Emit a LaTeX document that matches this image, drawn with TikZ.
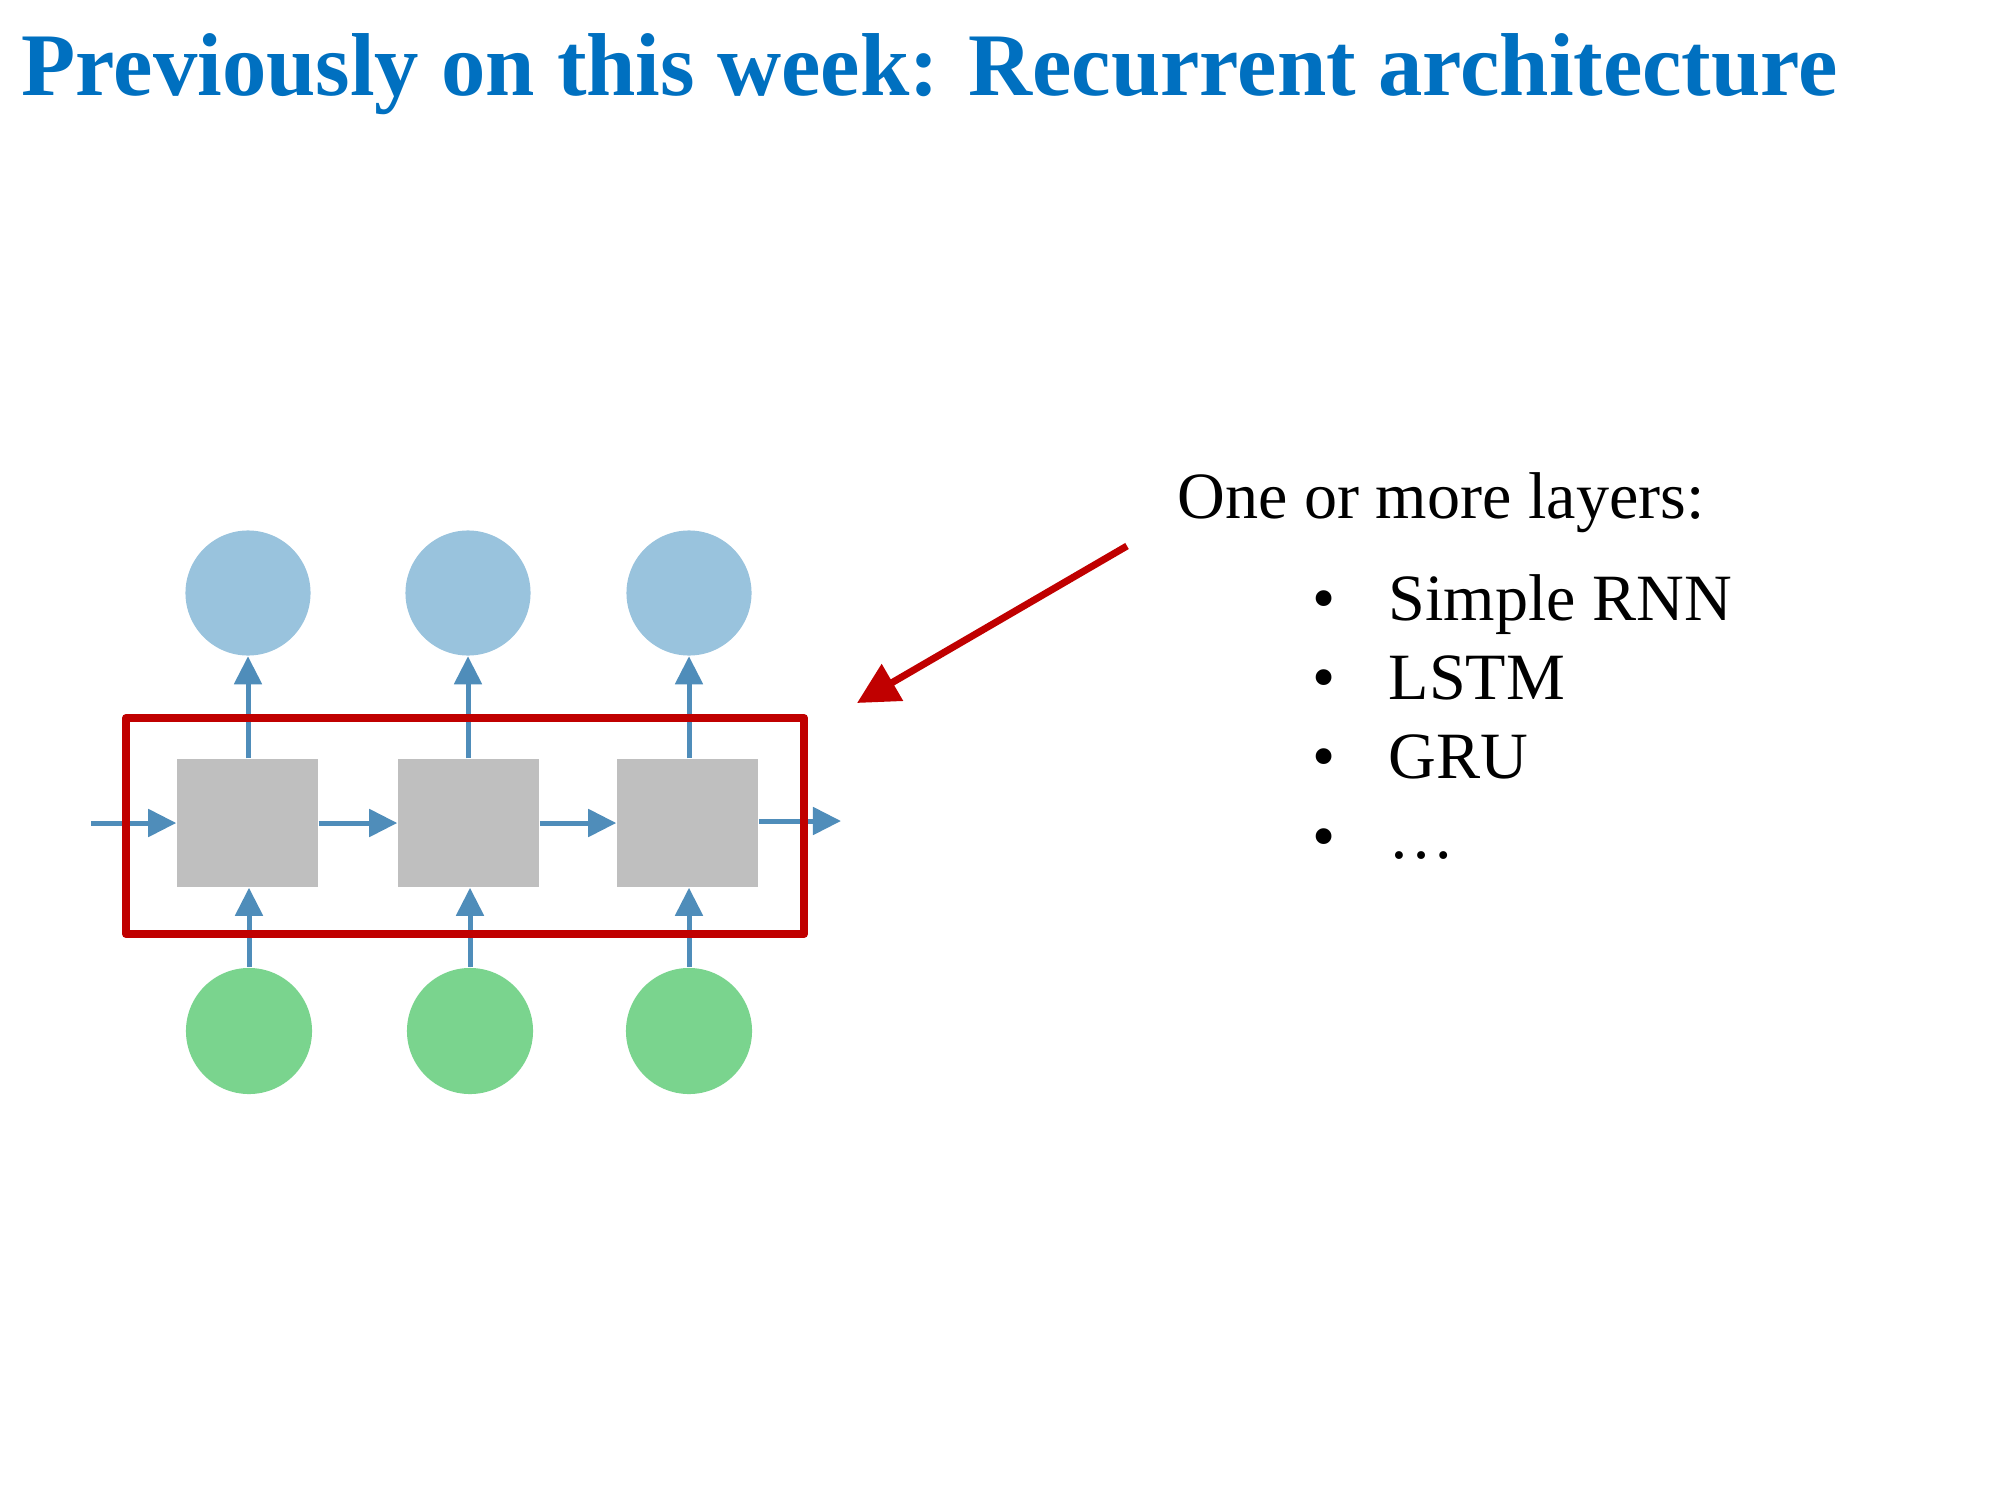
\documentclass[tikz,border=0pt]{standalone}
\usepackage{fontspec}
\usepackage{graphicx}
\setmainfont{Liberation Serif}
\usetikzlibrary{arrows.meta}

\definecolor{titleblue}{RGB}{0,112,192}
\definecolor{outblue}{RGB}{153,195,221}
\definecolor{ingreen}{RGB}{122,212,142}
\definecolor{cellgray}{RGB}{191,191,191}
\definecolor{flowblue}{RGB}{79,141,186}
\definecolor{boxred}{RGB}{192,0,0}

\tikzset{
  outnode/.style={circle, fill=outblue, minimum size=1.25cm, inner sep=0pt},
  innode/.style={circle, fill=ingreen, minimum size=1.26cm, inner sep=0pt},
  cellnode/.style={rectangle, fill=cellgray, minimum width=1.41cm, minimum height=1.28cm, inner sep=0pt},
  flow/.style={draw=flowblue, line width=0.05cm, -{Triangle[length=0.28cm, width=0.27cm]}},
  pointer/.style={draw=boxred, line width=0.07cm, -{Triangle[length=0.41cm, width=0.41cm]}},
  bodytext/.style={inner sep=0pt, font=\fontsize{18.8}{22}\selectfont},
}

\begin{document}
\begin{tikzpicture}[x=0.01cm, y=-0.01cm]
  % page
  \fill[white] (0,0) rectangle (2000,1500);
  \path[use as bounding box] (0,0) rectangle (2000,1500);

  % heading
  \node[anchor=base west, inner sep=0pt, text=titleblue] (title) at (21,96)
    {\resizebox{18.15cm}{\height}{\fontsize{25.4}{30}\selectfont\bfseries Previously on this week: Recurrent architecture}};

  % unrolled recurrent layer
  \node[cellnode] (cell1) at (247.5,823) {};
  \node[cellnode] (cell2) at (468.5,823) {};
  \node[cellnode] (cell3) at (687.5,823) {};

  \node[outnode] (out1) at (248,593) {};
  \node[outnode] (out2) at (468,593) {};
  \node[outnode] (out3) at (689,593) {};

  \node[innode] (in1) at (249,1031) {};
  \node[innode] (in2) at (470,1031) {};
  \node[innode] (in3) at (689,1031) {};

  \coordinate (h0) at (91,823);
  \coordinate (hN) at (841,821);

  % hidden state flow
  \draw[flow] (h0) -- (cell1.west);
  \draw[flow] (cell1.east) -- (cell2.west);
  \draw[flow] (cell2.east) -- (cell3.west);
  \draw[flow] (cell3.east |- hN) -- (hN);

  % outputs and inputs
  \foreach \i in {1,2,3} {
    \draw[flow] (cell\i.north -| out\i) -- (out\i.south);
    \draw[flow] (in\i.north) -- (cell\i.south -| in\i);
  }

  % layer frame
  \draw[draw=boxred, line width=0.08cm, line join=round] (126,718) rectangle (804,934) coordinate (frameSE);
  \coordinate (frame) at (804,718);

  % pointer from the list to the layer
  \coordinate (ptrstart) at (1127,546);
  \coordinate (ptrtip) at (857,703);
  \draw[pointer] (ptrstart) -- (ptrtip);

  % list of layer types
  \node[bodytext, anchor=base west] (head) at (1177,518) {One or more layers:};
  \foreach \t/\y/\n in {Simple RNN/620/a, LSTM/699/b, GRU/778/c, \ldots/858/d} {
    \node[bodytext, anchor=base] (bul\n) at (1324,\y) {•};
    \node[bodytext, anchor=base west] (item\n) at (1388,\y) {\t};
  }
\end{tikzpicture}
\end{document}
